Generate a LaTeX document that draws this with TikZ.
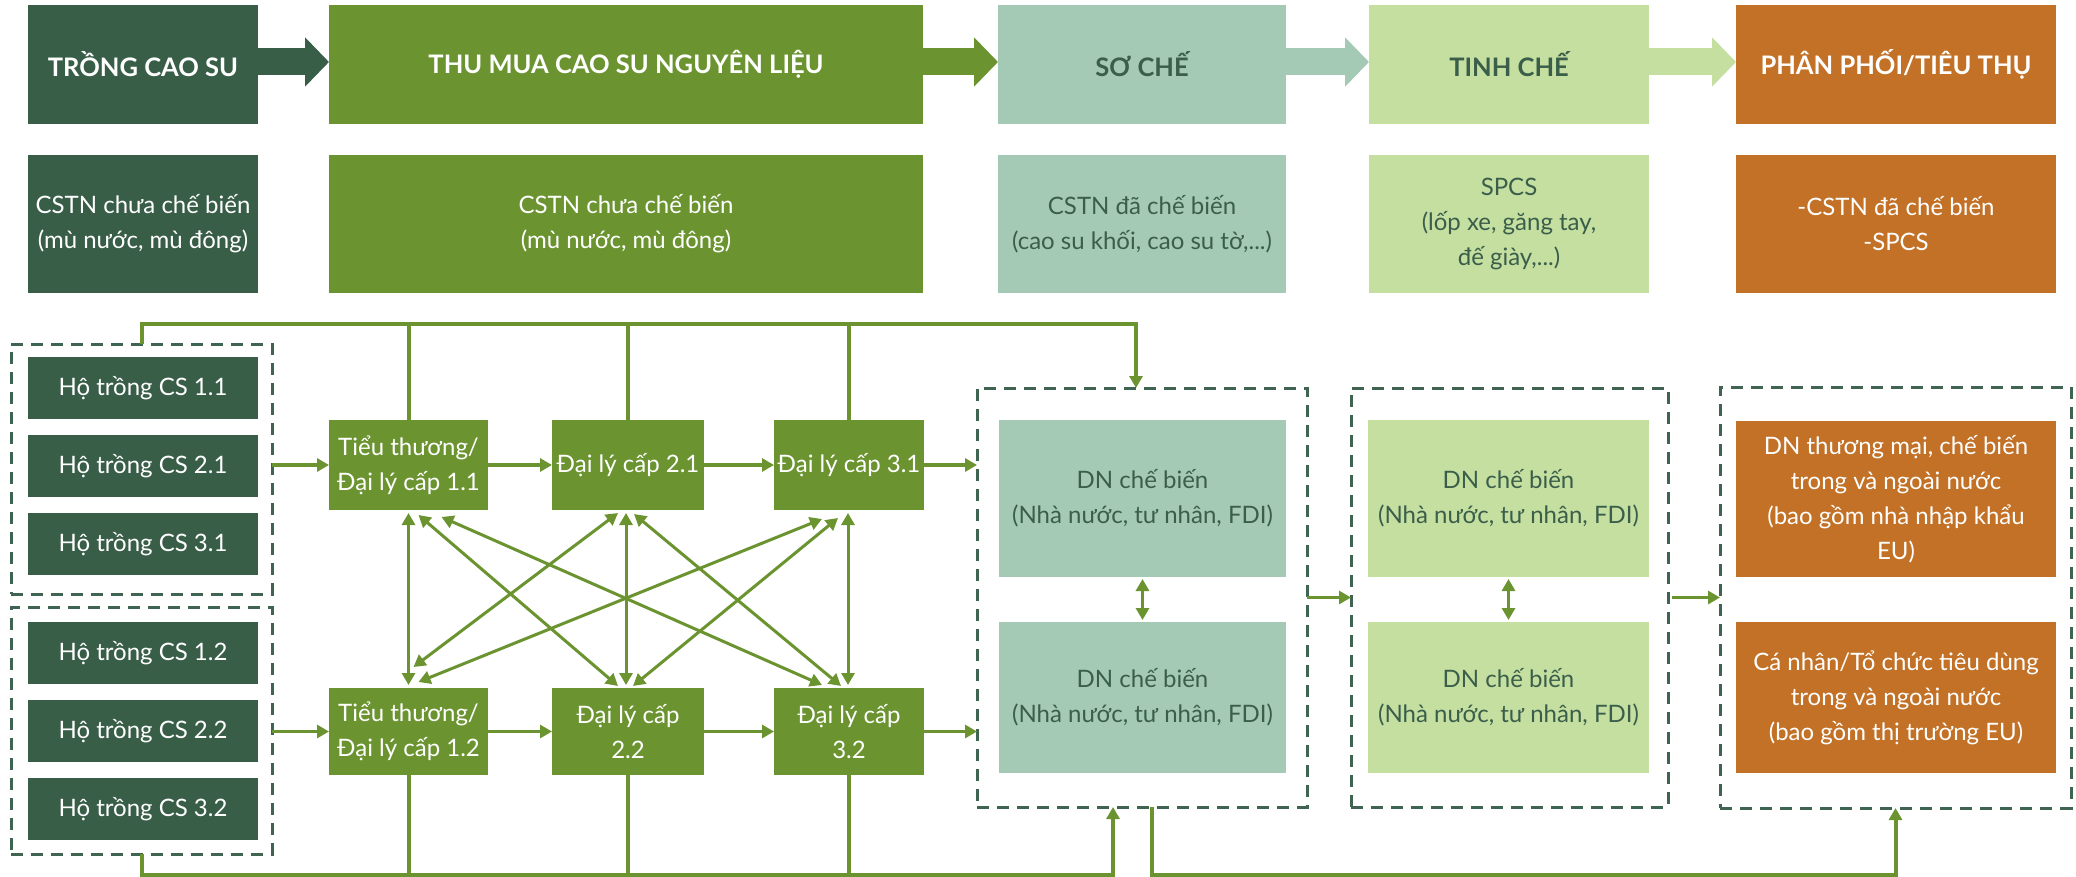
\documentclass[tikz,border=0pt]{standalone}
\usepackage{fontspec}
\setmainfont{Lato}
\usetikzlibrary{arrows.meta,calc}
\definecolor{cDG}{RGB}{56,94,72}
\definecolor{cOL}{RGB}{107,148,49}
\definecolor{cTE}{RGB}{164,201,180}
\definecolor{cLG}{RGB}{197,223,161}
\definecolor{cOR}{RGB}{194,113,38}
\definecolor{cTX}{RGB}{58,94,74}
\definecolor{cDS}{RGB}{63,100,82}
\begin{document}
\begin{tikzpicture}[x=1pt,y=-1pt,
  bx/.style={inner sep=0pt, outer sep=0pt, align=center, font=\fontsize{24}{35}\selectfont},
  hd/.style={bx, font=\bfseries\fontsize{25.5}{30}\selectfont},
  wh/.style 2 args={minimum width=#1pt, minimum height=#2pt},
  grp/.style={draw=cDS, line width=3pt, dash pattern=on 12pt off 8pt, inner sep=0pt, outer sep=0pt},
  ln/.style={draw=cOL, line width=3.5pt},
  atip/.tip={Triangle[length=12pt,width=13pt]},
  arr/.style={ln, -atip},
  bus/.style={ln, line width=4pt},
  darr/.style={ln, line width=3pt, atip-atip},
  blk/.style={line width=27pt, -{Triangle[length=24pt,width=48pt]}}
]
\fill[white] (0,0) rectangle (2076,877);
\useasboundingbox (0,0) rectangle (2076,877);

% header row
\node[hd, fill=cDG, text=white, wh={230}{119}] (h1) at (143,64.5) {TRỒNG CAO SU};
\node[hd, fill=cOL, text=white, wh={594}{119}] (h2) at (626,64.5) {THU MUA CAO SU NGUYÊN LIỆU};
\node[hd, fill=cTE, text=cTX, wh={288}{119}] (h3) at (1142,64.5) {SƠ CHẾ};
\node[hd, fill=cLG, text=cTX, wh={280}{119}] (h4) at (1509,64.5) {TINH CHẾ};
\node[hd, fill=cOR, text=white, wh={320}{119}] (h5) at (1896,64.5) {PHÂN PHỐI/TIÊU THỤ};
\draw[blk, cDG] (h1.east |- 0,62) -- (h2.west |- 0,62);
\draw[blk, cOL] (h2.east |- 0,62) -- (h3.west |- 0,62);
\draw[blk, cTE] (h3.east |- 0,62) -- (h4.west |- 0,62);
\draw[blk, cLG] (h4.east |- 0,62) -- (h5.west |- 0,62);

% second row
\node[bx, fill=cDG, text=white, wh={230}{138}] (c1) at (143,224) {CSTN chưa chế biến\\(mù nước, mù đông)};
\node[bx, fill=cOL, text=white, wh={594}{138}] (c2) at (626,224) {CSTN chưa chế biến\\(mù nước, mù đông)};
\node[bx, fill=cTE, text=cTX, wh={288}{138}] (c3) at (1142,224) {CSTN đã chế biến\\(cao su khối, cao su tờ,...)};
\node[bx, fill=cLG, text=cTX, wh={280}{138}] (c4) at (1509,224) {SPCS\\(lốp xe, găng tay,\\đế giày,...)};
\node[bx, fill=cOR, text=white, wh={320}{138}] (c5) at (1896,224) {-CSTN đã chế biến\\-SPCS};

% farmer groups
\node[grp, wh={261}{250}] (g1) at (141.5,469) {};
\node[grp, wh={261}{247}] (g2) at (141.5,730.5) {};
\node[bx, fill=cDG, text=white, wh={230}{62}] (f11) at (143,388) {Hộ trồng CS 1.1};
\node[bx, fill=cDG, text=white, wh={230}{62}] (f21) at (143,466) {Hộ trồng CS 2.1};
\node[bx, fill=cDG, text=white, wh={230}{62}] (f31) at (143,544) {Hộ trồng CS 3.1};
\node[bx, fill=cDG, text=white, wh={230}{62}] (f12) at (143,653) {Hộ trồng CS 1.2};
\node[bx, fill=cDG, text=white, wh={230}{62}] (f22) at (143,731) {Hộ trồng CS 2.2};
\node[bx, fill=cDG, text=white, wh={230}{62}] (f32) at (143,809) {Hộ trồng CS 3.2};

% traders
\node[bx, fill=cOL, text=white, wh={159}{90}] (t11) at (408.5,465) {Tiểu thương/\\Đại lý cấp 1.1};
\node[bx, fill=cOL, text=white, wh={152}{90}] (t21) at (628,465) {Đại lý cấp 2.1};
\node[bx, fill=cOL, text=white, wh={150}{90}] (t31) at (849,465) {Đại lý cấp 3.1};
\node[bx, fill=cOL, text=white, wh={159}{87}] (t12) at (408.5,731.5) {Tiểu thương/\\Đại lý cấp 1.2};
\node[bx, fill=cOL, text=white, wh={152}{87}] (t22) at (628,731.5) {Đại lý cấp\\2.2};
\node[bx, fill=cOL, text=white, wh={150}{87}] (t32) at (849,731.5) {Đại lý cấp\\3.2};

% processing groups
\node[grp, wh={330}{419}] (dng) at (1142,597.5) {};
\node[bx, fill=cTE, text=cTX, wh={287}{157}] (dn1) at (1142.5,498.5) {DN chế biến\\(Nhà nước, tư nhân, FDI)};
\node[bx, fill=cTE, text=cTX, wh={287}{151}] (dn2) at (1142.5,697.5) {DN chế biến\\(Nhà nước, tư nhân, FDI)};
\node[grp, wh={317}{419}] (tng) at (1509.5,597.5) {};
\node[bx, fill=cLG, text=cTX, wh={281}{157}] (tn1) at (1508.5,498.5) {DN chế biến\\(Nhà nước, tư nhân, FDI)};
\node[bx, fill=cLG, text=cTX, wh={281}{151}] (tn2) at (1508.5,697.5) {DN chế biến\\(Nhà nước, tư nhân, FDI)};
\node[grp, wh={351}{421}] (phg) at (1895.5,597.5) {};
\node[bx, fill=cOR, text=white, wh={320}{156}] (ph1) at (1896,499) {DN thương mại, chế biến\\trong và ngoài nước\\(bao gồm nhà nhập khẩu\\EU)};
\node[bx, fill=cOR, text=white, wh={320}{151}] (ph2) at (1896,697.5) {Cá nhân/Tổ chức tiêu dùng\\trong và ngoài nước\\(bao gồm thị trường EU)};

% buses
\coordinate (tb) at (0,324);
\coordinate (bb) at (0,875);
\coordinate (dnin) at ($(dng.north)+(-6,0)$);
\coordinate (dnb1) at ($(dng.south)+(-29,0)$);
\coordinate (dnb2) at ($(dng.south)+(10,0)$);
\draw[bus, -atip] (g1.north) -- (g1.north |- tb) -- (dnin |- tb) -- (dnin);
\draw[bus] (t11.north) -- (t11.north |- tb);
\draw[bus] (t21.north) -- (t21.north |- tb);
\draw[bus] (t31.north) -- (t31.north |- tb);
\draw[bus, -atip] (g2.south) -- (g2.south |- bb) -- (dnb1 |- bb) -- (dnb1);
\draw[bus] (t12.south) -- (t12.south |- bb);
\draw[bus] (t22.south) -- (t22.south |- bb);
\draw[bus] (t32.south) -- (t32.south |- bb);
\draw[bus, -atip] (dnb2) -- (dnb2 |- bb) -- (phg.south |- bb) -- (phg.south);

% horizontal flows
\draw[arr] (g1.east |- t11.west) -- (t11.west);
\draw[arr] (t11.east) -- (t21.west);
\draw[arr] (t21.east) -- (t31.west);
\draw[arr] (t31.east) -- (t31.east -| dng.west);
\draw[arr] (g2.east |- t12.west) -- (t12.west);
\draw[arr] (t12.east) -- (t22.west);
\draw[arr] (t22.east) -- (t32.west);
\draw[arr] (t32.east) -- (t32.east -| dng.west);
\draw[arr] (dng.east) -- (tng.west);
\draw[arr] ($(tng.east)+(4,0)$) -- (phg.west);
\draw[darr, shorten <=2pt, shorten >=2pt] (dn1.south) -- (dn2.north);
\draw[darr, shorten <=2pt, shorten >=2pt] (tn1.south) -- (tn2.north);

% cross links
\draw[darr] ($(t11.south)+(0,3)$) -- ($(t12.north)+(0,-3)$);
\draw[darr] ($(t21.south)+(-2,3)$) -- ($(t22.north)+(-2,-3)$);
\draw[darr] ($(t31.south)+(-1,3)$) -- ($(t32.north)+(-1,-3)$);
\draw[darr] ($(t11.south)+(10,5)$) -- ($(t22.north)+(-10,-2)$);
\draw[darr] ($(t11.south)+(33,7)$) -- ($(t32.north)+(-27,-3)$);
\draw[darr] ($(t21.south)+(-10,3)$) -- ($(t12.north)+(5,-21)$);
\draw[darr] ($(t21.south)+(6,4)$) -- ($(t32.north)+(-8,-2)$);
\draw[darr] ($(t31.south)+(-27,9)$) -- ($(t12.north)+(10,-6)$);
\draw[darr] ($(t31.south)+(-11,8)$) -- ($(t22.north)+(5,-2)$);
\end{tikzpicture}
\end{document}
